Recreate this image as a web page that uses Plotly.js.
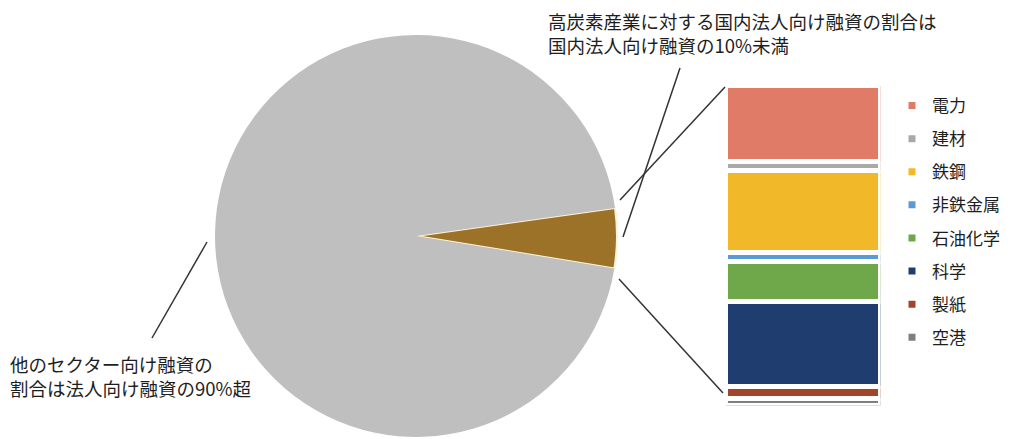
<!DOCTYPE html>
<html><head><meta charset="utf-8">
<script src="https://cdn.plot.ly/plotly-3.0.1.min.js"></script>
<style>html,body{margin:0;padding:0;background:#fff;overflow:hidden}</style>
</head><body><div id="chart" style="width:1013px;height:439px"></div>
<script>
// Pie: share of domestic corporate lending
const pieLabels = ['高炭素産業', '他のセクター'];
const pieValues = [4.8, 95.2];
const pieColors = ['#9B7228', '#BFBFBF'];

// Breakdown of high-carbon sectors (share within high-carbon lending, %)
const sectors = ['電力', '建材', '鉄鋼', '非鉄金属', '石油化学', '科学', '製紙', '空港'];
const sectorShares = [23.8, 2.7, 25.7, 2.8, 12.5, 26.6, 3.8, 2.2];
const sectorColors = ['#E07B67', '#A9A9A9', '#F1B929', '#5B9BD5', '#6FA84A', '#1F3D6E', '#A0442A', '#7F7F7F'];

const topNote = '高炭素産業に対する国内法人向け融資の割合は<br>国内法人向け融資の10%未満';
const leftNote = '他のセクター向け融資の<br>割合は法人向け融資の90%超';

const W = 1013, H = 439;
const px = x => x / W;
const py = y => 1 - y / H;
const FONT = '"Noto Sans CJK JP", "Noto Sans", sans-serif';

const traces = [];
traces.push({
  type: 'pie',
  labels: pieLabels,
  values: pieValues,
  marker: {colors: pieColors, line: {color: ['#FFF3D6', '#FFFFFF'], width: [2, 0]}},
  sort: false,
  direction: 'clockwise',
  rotation: 82,
  textinfo: 'none',
  hoverinfo: 'skip',
  showlegend: false,
  domain: {x: [px(215), px(617)], y: [py(437), py(35)]}
});

for (let i = sectors.length - 1; i >= 0; i--) {
  traces.push({
    type: 'bar',
    name: sectors[i],
    x: [0],
    y: [sectorShares[i]],
    width: [1],
    marker: {color: sectorColors[i], line: {color: '#FFFFFF', width: 5}},
    legendgroup: 'g' + i,
    legendrank: i + 1,
    hoverinfo: 'skip',
    xaxis: 'x',
    yaxis: 'y'
  });
}

const total = sectorShares.reduce((a, b) => a + b, 0);

const line = (x0, y0, x1, y1) => ({
  type: 'line', xref: 'paper', yref: 'paper',
  x0: px(x0), y0: py(y0), x1: px(x1), y1: py(y1),
  line: {color: '#333333', width: 1.5}
});

const layout = {
  width: W, height: H,
  margin: {l: 0, r: 0, t: 0, b: 0},
  paper_bgcolor: '#FFFFFF',
  plot_bgcolor: 'rgba(0,0,0,0)',
  barmode: 'stack',
  bargap: 0,
  hovermode: false,
  font: {family: FONT, color: '#1E1E1E'},
  xaxis: {domain: [px(725.5), px(880.5)], range: [-0.5, 0.5], visible: false, fixedrange: true},
  yaxis: {domain: [py(405.5), py(85.5)], range: [0, total], visible: false, fixedrange: true},
  showlegend: true,
  legend: {
    x: px(892), xanchor: 'left',
    y: py(88), yanchor: 'top',
    traceorder: 'grouped',
    tracegroupgap: 8,
    font: {family: FONT, size: 17, color: '#1E1E1E'},
    bgcolor: 'rgba(0,0,0,0)'
  },
  shapes: [
    line(620, 200, 725, 87),
    line(619, 279, 723, 393),
    line(623, 237, 680, 68),
    line(207, 242, 152, 338)
  ],
  annotations: [
    {xref: 'paper', yref: 'paper', x: px(546), y: py(33), xanchor: 'left', yanchor: 'middle',
     align: 'left', showarrow: false, text: topNote, font: {family: FONT, size: 18.5, color: '#1E1E1E'}},
    {xref: 'paper', yref: 'paper', x: px(8), y: py(376), xanchor: 'left', yanchor: 'middle',
     align: 'left', showarrow: false, text: leftNote, font: {family: FONT, size: 18.5, color: '#1E1E1E'}}
  ]
};

Plotly.newPlot('chart', traces, layout, {displayModeBar: false, staticPlot: true});
</script>
</body></html>
